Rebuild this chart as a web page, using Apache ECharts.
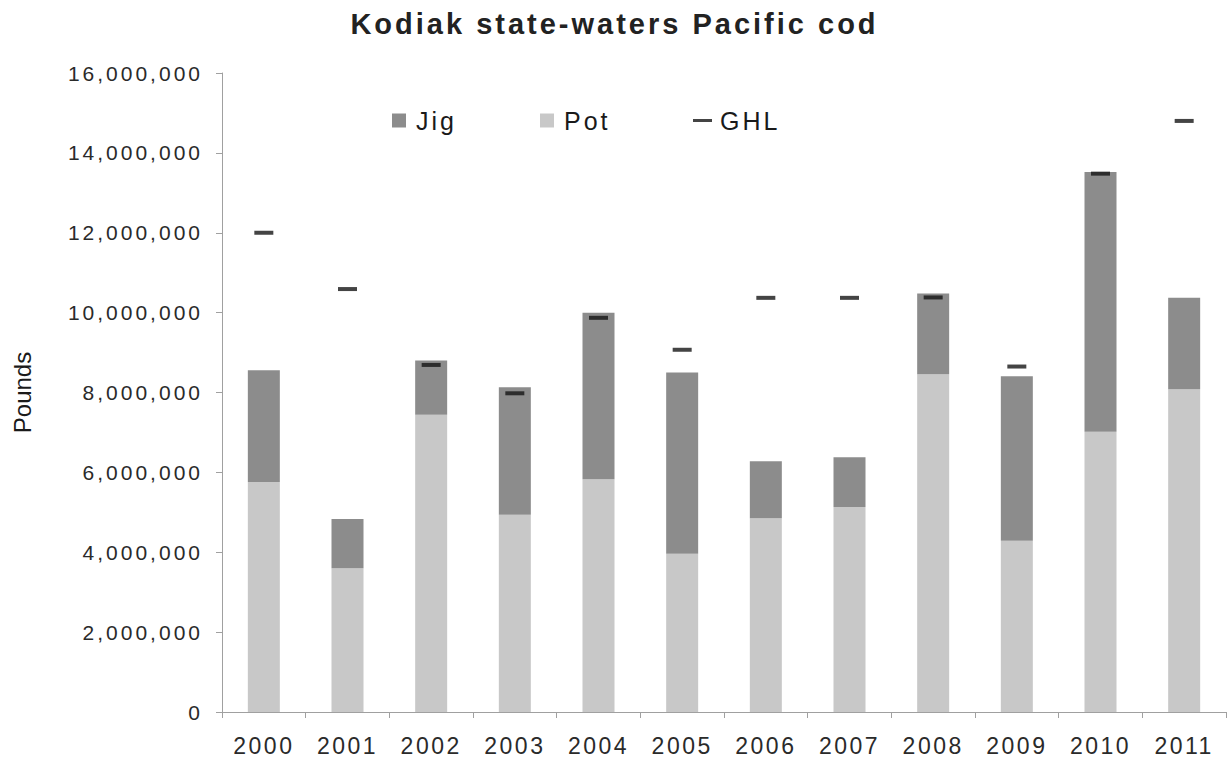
<!DOCTYPE html>
<html>
<head>
<meta charset="utf-8">
<script src="https://cdn.jsdelivr.net/npm/echarts@6/dist/echarts.min.js"></script>
<style>
html,body{margin:0;padding:0;background:#fff;}
#chart{width:1229px;height:763px;}
/* the reference text is set wide; widen it with letter spacing per text size */
#chart text[style*="29px"]{letter-spacing:3px;}
#chart text[style*="25px"]{letter-spacing:3px;}
#chart text[style*="21px"]{letter-spacing:3px;}
#chart text[style*="23px"]{letter-spacing:2.5px;}
</style>
</head>
<body>
<div id="chart"></div>
<script>
const years = ['2000','2001','2002','2003','2004','2005','2006','2007','2008','2009','2010','2011'];
const potValues = [5760000, 3600000, 7440000, 4940000, 5830000, 3960000, 4850000, 5130000, 8460000, 4290000, 7020000, 8080000];
const jigValues = [2800000, 1230000, 1360000, 3190000, 4170000, 4540000, 1430000, 1250000, 2020000, 4120000, 6500000, 2290000];
const ghlValues = [12000000, 10590000, 8690000, 7980000, 9870000, 9070000, 10370000, 10370000, 10380000, 8650000, 13480000, 14800000];
const yTicks = { min: 0, max: 16000000, interval: 2000000 };

const FONT = '"Liberation Sans", Arial, sans-serif';
const chart = echarts.init(document.getElementById('chart'), null, { renderer: 'svg' });
const fmt = v => v.toString().replace(/\B(?=(\d{3})+(?!\d))/g, ',');
const legendText = { fontFamily: FONT, fontSize: 25, color: '#1a1a1a', padding: [0, 0, 0, 5] };

chart.setOption({
  animation: false,
  backgroundColor: '#ffffff',
  title: {
    text: 'Kodiak state-waters Pacific cod',
    left: 'center',
    top: 4,
    textStyle: { fontFamily: FONT, fontWeight: 'bold', fontSize: 29, color: '#222' }
  },
  legend: [
    { data: ['Jig'], left: 392, top: 108, padding: 0, icon: 'rect', itemWidth: 14, itemHeight: 14, textStyle: legendText },
    { data: ['Pot'], left: 540, top: 108, padding: 0, icon: 'rect', itemWidth: 14, itemHeight: 14, textStyle: legendText },
    { data: ['GHL'], left: 693, top: 108, padding: 0, icon: 'rect', itemWidth: 19, itemHeight: 3,
      textStyle: Object.assign({}, legendText, { padding: [0, 0, 0, 3] }) }
  ],
  grid: { left: 222, right: 3, top: 73, bottom: 51, containLabel: false },
  xAxis: {
    type: 'category',
    data: years,
    axisLine: { lineStyle: { color: '#a0a0a0', width: 1 } },
    axisTick: { show: true, length: 6, lineStyle: { color: '#a0a0a0' } },
    axisLabel: { fontFamily: FONT, fontSize: 23, color: '#2a2a2a', margin: 22 }
  },
  yAxis: {
    type: 'value',
    min: yTicks.min, max: yTicks.max, interval: yTicks.interval,
    name: 'Pounds',
    nameLocation: 'middle',
    nameGap: 188,
    nameRotate: 90,
    nameTextStyle: { fontFamily: FONT, fontSize: 24, color: '#1a1a1a' },
    splitLine: { show: false },
    axisLine: { show: true, lineStyle: { color: '#a0a0a0', width: 1 } },
    axisTick: { show: true, length: 6, lineStyle: { color: '#a0a0a0' } },
    axisLabel: { fontFamily: FONT, fontSize: 21, color: '#2a2a2a', margin: 19, formatter: v => fmt(v) }
  },
  series: [
    { name: 'Pot', type: 'bar', stack: 'total', data: potValues, barWidth: 32,
      itemStyle: { color: '#c8c8c8' } },
    { name: 'Jig', type: 'bar', stack: 'total', data: jigValues, barWidth: 32,
      itemStyle: { color: '#8c8c8c' } },
    { name: 'GHL', type: 'scatter', data: ghlValues, symbol: 'rect', symbolSize: [19, 4],
      itemStyle: { color: '#151515' }, z: 10 }
  ]
});
</script>
</body>
</html>
